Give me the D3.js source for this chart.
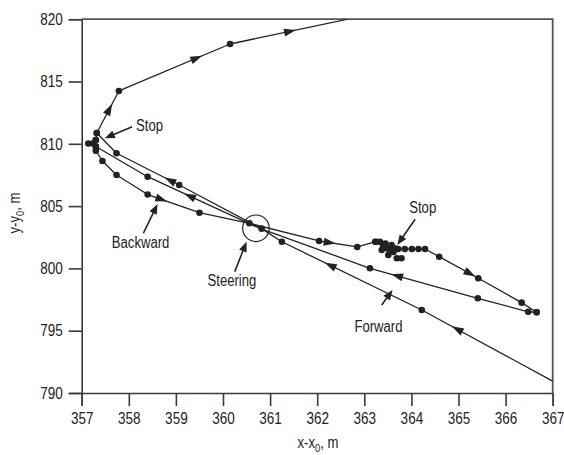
<!DOCTYPE html>
<html>
<head>
<meta charset="utf-8">
<script src="https://cdn.jsdelivr.net/npm/d3@7"></script>
<style>
  body { margin: 0; background: #fff; }
  svg text { font-family: 'Liberation Sans Narrow', 'Arial Narrow', 'Liberation Sans', Arial, sans-serif; fill: #222; }
</style>
</head>
<body>
<svg id="chart" width="564" height="455"></svg>
<script>
// Axis ticks
const xTicks = [357, 358, 359, 360, 361, 362, 363, 364, 365, 366, 367];
const yTicks = [790, 795, 800, 805, 810, 815, 820];

// Trajectory legs: [x - x0, y - y0, measured point (1) or bend only (0)]
const forwardIn = [
  [367.00, 790.95, 0], [364.22, 796.66, 1], [361.25, 802.14, 1], [360.82, 803.19, 1],
  [359.07, 806.69, 1], [357.74, 809.24, 1], [357.32, 810.87, 1]
];
const backward = [
  [357.30, 809.45, 1], [357.44, 808.62, 1], [357.74, 807.50, 1], [358.40, 805.93, 1],
  [359.50, 804.47, 1], [360.56, 803.62, 1], [362.04, 802.20, 1], [362.85, 801.72, 1],
  [363.25, 802.14, 1], [363.40, 801.88, 1]
];
const forwardOut = [
  [363.40, 801.88, 1], [363.72, 801.56, 1], [363.86, 801.56, 1], [364.01, 801.56, 1],
  [364.15, 801.56, 1], [364.29, 801.56, 1], [364.59, 800.94, 1], [365.42, 799.21, 1],
  [366.34, 797.25, 1], [366.66, 796.48, 1]
];
const returnLeg = [
  [366.66, 796.48, 1], [366.48, 796.52, 1], [365.41, 797.60, 1], [363.12, 800.01, 1],
  [360.74, 803.28, 0], [358.40, 807.36, 1], [357.30, 809.78, 1]
];
const exitLeg = [
  [357.30, 810.30, 1], [357.32, 810.87, 1], [357.79, 814.24, 1], [360.15, 818.01, 1],
  [362.65, 820.00, 0]
];
const legs = [forwardIn, backward, forwardOut, returnLeg, exitLeg];

// Extra fixes recorded while the vehicle was standing still
const stopLeftPoints = [[357.14, 810.03], [357.24, 810.03], [357.30, 810.30], [357.30, 809.78]];
const stopRightPoints = [
  [363.23, 802.14], [363.33, 802.14], [363.48, 801.61], [363.37, 801.48], [363.58, 801.88],
  [363.62, 801.32], [363.51, 801.08], [363.69, 800.81], [363.79, 800.81], [363.45, 802.00],
  [363.55, 801.45], [363.42, 801.75], [363.66, 801.60]
];

// Direction-of-travel arrows: leg index, segment index, fraction along segment
const travelArrows = [
  { leg: 0, seg: 0, t: 0.73 }, { leg: 0, seg: 1, t: 0.655 }, { leg: 0, seg: 4, t: 0.15 },
  { leg: 1, seg: 3, t: 0.27 }, { leg: 1, seg: 6, t: 0.28 },
  { leg: 2, seg: 6, t: 0.79 },
  { leg: 3, seg: 2, t: 0.75 }, { leg: 3, seg: 4, t: 0.62 },
  { leg: 4, seg: 1, t: 0.57 }, { leg: 4, seg: 2, t: 0.70 }, { leg: 4, seg: 3, t: 0.51 }
];

// Steering location
const steeringPoint = [360.70, 803.22];

// Callouts: label, label anchor (centre, baseline), pointer tail, pointer tip
const callouts = [
  { text: "Stop",     at: [358.44, 811.03], from: [358.07, 811.37], to: [357.49, 810.44] },
  { text: "Stop",     at: [364.24, 804.45], from: [364.08, 803.94], to: [363.70, 801.88] },
  { text: "Backward", at: [358.25, 801.60], from: [358.31, 802.82], to: [358.61, 805.17] },
  { text: "Steering", at: [360.19, 798.59], from: [360.25, 799.74], to: [360.50, 802.14] },
  { text: "Forward",  at: [363.30, 794.86], from: [363.37, 797.06], to: [363.60, 798.27] }
];

const svg = d3.select("#chart");
const x = d3.scaleLinear().domain([357, 367]).range([81.7, 552.7]);
const y = d3.scaleLinear().domain([790, 820]).range([393, 19.2]);

const ink = "#222";
const axisInk = "#3a3a3a";
const narrow = 0.82;   // horizontal squeeze giving a condensed sans face

// Squeeze a text element horizontally about its own anchor
function condense(sel) {
  sel.each(function () {
    const t = d3.select(this);
    const ax = +(t.attr("x") || 0);
    t.attr("x", 0).attr("transform", `translate(${ax},0) scale(${narrow},1)`);
  });
}

// Axes with outward ticks
const yAxis = svg.append("g")
  .attr("transform", `translate(${x(357)},0)`)
  .call(d3.axisLeft(y).tickValues(yTicks).tickSize(13).tickSizeOuter(13).tickPadding(6));
const xAxis = svg.append("g")
  .attr("transform", `translate(0,${y(790)})`)
  .call(d3.axisBottom(x).tickValues(xTicks).tickSize(13).tickSizeOuter(13).tickPadding(6));
[xAxis, yAxis].forEach(g => {
  g.selectAll("path,line").attr("stroke", axisInk).attr("stroke-width", 1.6);
  g.selectAll("text").attr("font-size", 16.5).attr("fill", ink)
    .style("font-family", "'Liberation Sans Narrow', 'Arial Narrow', 'Liberation Sans', Arial, sans-serif")
    .call(condense);
});

// Top and right frame lines
svg.append("path")
  .attr("d", `M${x(357)},${y(820)}H${x(367)}V${y(790)}`)
  .attr("fill", "none").attr("stroke", "#555").attr("stroke-width", 1.8);

// Axis titles
const xTitle = svg.append("text")
  .attr("transform", `translate(318,447.5) scale(${narrow},1)`)
  .attr("text-anchor", "middle").attr("font-size", 16);
xTitle.append("tspan").text("x-x");
xTitle.append("tspan").attr("font-size", 11.5).attr("dy", 4).text("0");
xTitle.append("tspan").attr("dy", -4).text(", m");

const yTitle = svg.append("text")
  .attr("transform", `translate(20,213) rotate(-90) scale(${narrow},1)`)
  .attr("text-anchor", "middle").attr("font-size", 16);
yTitle.append("tspan").text("y-y");
yTitle.append("tspan").attr("font-size", 11.5).attr("dy", 4).text("0");
yTitle.append("tspan").attr("dy", -4).text(", m");

// Plot area
const plot = svg.append("g");
plot.append("clipPath").attr("id", "plot-clip")
  .append("rect").attr("x", x(357)).attr("y", y(820))
  .attr("width", x(367) - x(357)).attr("height", y(790) - y(820));

const line = d3.line().x(d => x(d[0])).y(d => y(d[1]));
const tracks = plot.append("g").attr("clip-path", "url(#plot-clip)");
tracks.selectAll("path.leg").data(legs).join("path")
  .attr("class", "leg").attr("d", line)
  .attr("fill", "none").attr("stroke", ink).attr("stroke-width", 1.3)
  .attr("stroke-linejoin", "round");

// Measured points
const dots = legs.flatMap(l => l.filter(p => p[2] === 1))
  .concat(stopLeftPoints, stopRightPoints);
plot.append("g").selectAll("circle").data(dots).join("circle")
  .attr("cx", d => x(d[0])).attr("cy", d => y(d[1])).attr("r", 3.3).attr("fill", ink);

// Arrowhead drawn as a filled triangle pointing along (dx, dy)
function arrowHead(g, tipX, tipY, dx, dy, len, half) {
  const n = Math.hypot(dx, dy), ux = dx / n, uy = dy / n;
  const bx = tipX - ux * len, by = tipY - uy * len;
  g.append("path")
    .attr("d", `M${tipX},${tipY}L${bx - uy * half},${by + ux * half}L${bx + uy * half},${by - ux * half}Z`)
    .attr("fill", ink);
}

// Travel direction arrows
const arrowG = plot.append("g");
travelArrows.forEach(a => {
  const p0 = legs[a.leg][a.seg], p1 = legs[a.leg][a.seg + 1];
  const x0 = x(p0[0]), y0 = y(p0[1]), x1 = x(p1[0]), y1 = y(p1[1]);
  const cx = x0 + (x1 - x0) * a.t, cy = y0 + (y1 - y0) * a.t;
  const dx = x1 - x0, dy = y1 - y0, n = Math.hypot(dx, dy);
  arrowHead(arrowG, cx + dx / n * 6, cy + dy / n * 6, dx, dy, 12, 4);
});

// Steering circle
plot.append("circle")
  .attr("cx", x(steeringPoint[0])).attr("cy", y(steeringPoint[1])).attr("r", 13.3)
  .attr("fill", "none").attr("stroke", ink).attr("stroke-width", 1.2);

// Callouts
const calloutG = plot.append("g");
callouts.forEach(c => {
  calloutG.append("text")
    .attr("transform", `translate(${x(c.at[0])},${y(c.at[1])}) scale(${narrow},1)`)
    .attr("text-anchor", "middle").attr("font-size", 16).text(c.text);
  const fx = x(c.from[0]), fy = y(c.from[1]), tx = x(c.to[0]), ty = y(c.to[1]);
  const dx = tx - fx, dy = ty - fy, n = Math.hypot(dx, dy);
  calloutG.append("line")
    .attr("x1", fx).attr("y1", fy).attr("x2", tx - dx / n * 6).attr("y2", ty - dy / n * 6)
    .attr("stroke", ink).attr("stroke-width", 1.6);
  arrowHead(calloutG, tx, ty, dx, dy, 10, 4);
});
</script>
</body>
</html>
